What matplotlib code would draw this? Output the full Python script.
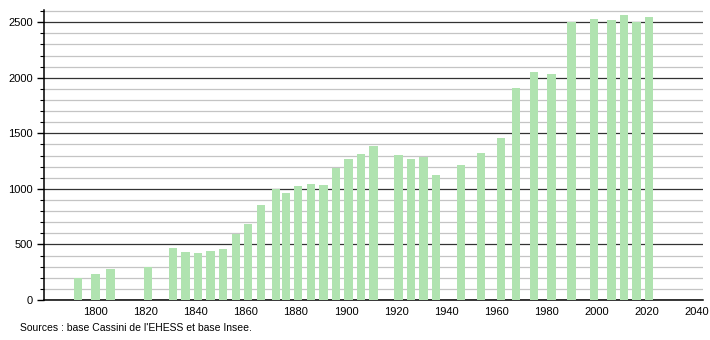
import matplotlib
matplotlib.use("Agg")
import matplotlib.pyplot as plt
from matplotlib.ticker import MultipleLocator

# Census years and population
years = [1793, 1800, 1806, 1821, 1831, 1836, 1841, 1846, 1851, 1856,
         1861, 1866, 1872, 1876, 1881, 1886, 1891, 1896, 1901, 1906,
         1911, 1921, 1926, 1931, 1936, 1946, 1954, 1962, 1968, 1975,
         1982, 1990, 1999, 2006, 2011, 2016, 2021]
population = [200, 236, 279, 294, 470, 432, 420, 443, 461, 591,
              683, 854, 995, 965, 1028, 1046, 1034, 1190, 1268, 1316,
              1385, 1304, 1268, 1286, 1124, 1214, 1322, 1457, 1906, 2053,
              2035, 2500, 2527, 2518, 2563, 2500, 2545]
x_ticks = [1800, 1820, 1840, 1860, 1880, 1900, 1920, 1940, 1960, 1980, 2000, 2020, 2040]
y_ticks = [0, 500, 1000, 1500, 2000, 2500]
source = "Sources : base Cassini de l'EHESS et base Insee."

plt.rcParams["font.family"] = ["Liberation Sans", "DejaVu Sans"]

fig = plt.figure(figsize=(7.1, 3.4), dpi=100)
ax = fig.add_axes([44 / 710, 40 / 340, 659 / 710, 290 / 340])

ax.bar(years, population, width=3.3, color="#b0e3b0", zorder=3)

ax.set_xlim(1779.5, 2042.5)
ax.set_ylim(0, 2610)
ax.set_xticks(x_ticks)
ax.set_yticks(y_ticks)
ax.yaxis.set_minor_locator(MultipleLocator(100))

ax.grid(axis="y", which="major", color="#333333", linewidth=0.9, zorder=1)
ax.grid(axis="y", which="minor", color="#c4c4c4", linewidth=0.9, zorder=0)

for side in ["top", "right"]:
    ax.spines[side].set_visible(False)
ax.spines["left"].set_linewidth(1.1)
ax.spines["bottom"].set_linewidth(1.1)

ax.tick_params(axis="x", length=0, pad=5, labelsize=8)
ax.tick_params(axis="y", which="major", length=5, width=1, labelsize=8, pad=3)
ax.tick_params(axis="y", which="minor", length=3, width=0.8)

fig.text(20 / 710, 1 - 328 / 340, source, fontsize=7.5, va="center", ha="left")

fig.savefig("out.png", dpi=100)
